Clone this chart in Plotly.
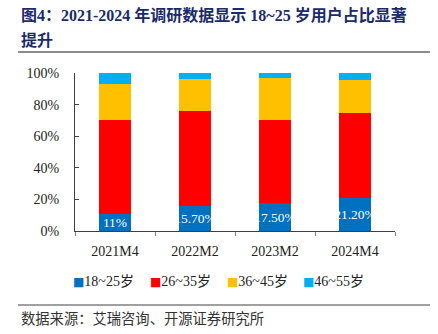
import plotly.graph_objects as go

# Survey waves and age-group shares (%)
periods = ["2021M4", "2022M2", "2023M2", "2024M4"]
age_groups = ["18~25岁", "26~35岁", "36~45岁", "46~55岁"]
share_18_25 = [11.0, 15.7, 17.5, 21.2]
share_26_35 = [59.0, 60.3, 52.5, 53.3]
share_36_45 = [23.0, 20.0, 27.0, 21.0]
share_46_55 = [7.0, 4.0, 3.0, 4.5]
label_18_25 = ["11%", "15.70%", "17.50%", "21.20%"]
colors = ["#0070C0", "#FF0000", "#FFC000", "#00B0F0"]

W, H = 438, 334
L, R, T, B = 75, 43, 73, 103
pw, ph = W - L - R, H - T - B


def px(x):
    return (x - L) / pw


def py(y):
    return (H - B - y) / ph


serif = "Liberation Serif, Noto Sans CJK SC, serif"
cjk = "Liberation Serif, Noto Sans CJK SC, sans-serif"

fig = go.Figure()
series = [share_18_25, share_26_35, share_36_45, share_46_55]
for i, (name, vals) in enumerate(zip(age_groups, series)):
    kw = {}
    if i == 0:
        kw = dict(
            text=label_18_25,
            textposition="inside",
            insidetextanchor="middle",
            constraintext="none",
            textangle=0,
            textfont=dict(family=serif, size=13.5, color="white"),
        )
    fig.add_trace(go.Bar(
        x=periods, y=[v / 100 for v in vals], name=name,
        marker=dict(color=colors[i], line=dict(width=0)),
        width=0.4, cliponaxis=False, hoverinfo="skip",
        showlegend=False, **kw,
    ))

fig.update_layout(
    barmode="stack",
    width=W, height=H,
    margin=dict(l=L, r=R, t=T, b=B),
    paper_bgcolor="white", plot_bgcolor="white",
    font=dict(family=serif, size=14, color="#222222"),
    xaxis=dict(
        type="category", showline=True, linecolor="#404040", linewidth=1,
        ticks="outside", tickson="boundaries", ticklen=4, tickcolor="#808080",
        ticklabelstandoff=7,
        tickfont=dict(family=serif, size=14, color="#222222"),
        showgrid=False, fixedrange=True,
    ),
    yaxis=dict(
        range=[0, 1], tickvals=[0, 0.2, 0.4, 0.6, 0.8, 1.0],
        tickformat=".0%", showline=True, linecolor="#404040", linewidth=1,
        ticks="inside", ticklen=4, tickcolor="#404040", ticklabelstandoff=12,
        tickfont=dict(family=serif, size=14, color="#222222"),
        showgrid=False, zeroline=False, fixedrange=True,
    ),
    bargap=0.6,
)

# Legend row: coloured square followed by the age-group name
legend_left = [71, 148, 225, 301]
for name, col, left in zip(age_groups, colors, legend_left):
    fig.add_annotation(
        text=f'<span style="font-family:DejaVu Sans;font-size:12px;color:{col}">■</span>{name}',
        xref="paper", yref="paper", x=px(left), y=py(281),
        xanchor="left", yanchor="middle", showarrow=False,
        font=dict(family=cjk, size=14, color="#222222"),
    )

# Title block, rule lines and source note
title_lines = ["图4：2021-2024 年调研数据显示 18~25 岁用户占比显著", "提升"]
for k, line in enumerate(title_lines):
    fig.add_annotation(
        text=f"<b>{line}</b>",
        xref="paper", yref="paper", x=px(19), y=py(15 + 25 * k),
        xanchor="left", yanchor="middle", showarrow=False,
        font=dict(family=cjk, size=16, color="#1B2A6B"),
    )
fig.add_shape(type="line", xref="paper", yref="paper",
              x0=px(18), x1=px(430), y0=py(52), y1=py(52),
              line=dict(color="#8C8C8C", width=2))
fig.add_shape(type="line", xref="paper", yref="paper",
              x0=px(18), x1=px(430), y0=py(305), y1=py(305),
              line=dict(color="#404040", width=1))
fig.add_annotation(
    text="数据来源：艾瑞咨询、开源证券研究所",
    xref="paper", yref="paper", x=px(19), y=py(319), xanchor="left", yanchor="middle",
    showarrow=False, font=dict(family=cjk, size=14.3, color="#333333"),
)

fig.write_html("out.html")
